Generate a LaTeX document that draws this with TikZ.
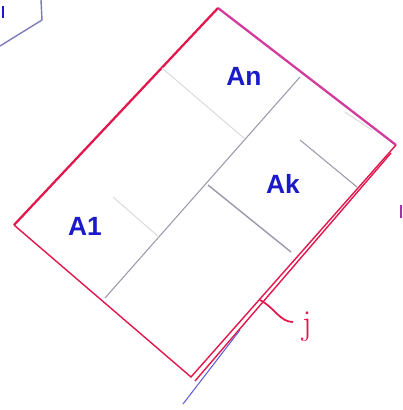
\documentclass[tikz,border=0pt]{standalone}
\usepackage{fontspec}
\setsansfont{Liberation Sans}
\definecolor{edgered}{HTML}{E3174C}
\definecolor{edgepink}{HTML}{D23A9C}
\definecolor{inkblue}{HTML}{1A1AC8}
\definecolor{pencil}{HTML}{9A9AAA}
\definecolor{faint}{HTML}{DCDCE0}
\begin{document}
\begin{tikzpicture}[x = 0.02cm, y = -0.02cm,
	cell/.style = {font = \sffamily\bfseries\fontsize{15}{15}\selectfont, text = inkblue},
	grid/.style = {pencil, line width = 0.6pt},
	hint/.style = {faint, line width = 0.6pt}]
	\useasboundingbox (0,0) rectangle (403,410);
	% corners of the plate
	\coordinate (T) at (218,8);
	\coordinate (R) at (396,145);
	\coordinate (B) at (191,377);
	\coordinate (L) at (14,225);
	\draw [edgered, line width = 1.3pt] (L) -- (T);
	\draw [edgepink, line width = 1.3pt] (T) -- (R);
	\draw [edgered, line width = 0.8pt] (R) -- (B) -- (L);
	\draw [edgered, line width = 0.8pt] (391,153) -- (195,381);
	\draw [inkblue!70, line width = 0.6pt] (240,330) -- (183,404);
	\draw [hint] (345,112) -- (372,130);
	% inner division
	\coordinate (M1) at (300,77);
	\coordinate (M2) at (105,298);
	\draw [grid] (M1) -- (M2);
	\coordinate (K1) at (208,185);
	\coordinate (K2) at (291,252);
	\draw [grid, line width = 0.8pt] (K1) -- (K2);
	\draw [grid] (300,140) -- (357,187);
	\draw [hint] (162,68) -- (245,139);
	\draw [hint] (113,197) -- (160,238);
	% labels
	\node [cell] (An) at (244,76) {An};
	\node [cell] (Ak) at (283,184) {Ak};
	\node [cell] (A1) at (85,226) {A1};
	% boundary mark
	\coordinate (G) at (260,300);
	\draw [edgered, line width = 1pt] (G) .. controls (275,308) and (280,322) .. (293,322);
	\node [text = edgered, font = \fontsize{20}{20}\selectfont] (j) at (307,327) {j};
	% stray strokes
	\draw [pencil!80!blue, line width = 0.8pt] (41,0) -- (42,20) -- (0,46);
	\draw [inkblue, line width = 1.6pt] (3,6) -- (3,18);
	\draw [edgepink!80!blue, line width = 0.8pt] (401,205) -- (401,218);
\end{tikzpicture}
\end{document}
